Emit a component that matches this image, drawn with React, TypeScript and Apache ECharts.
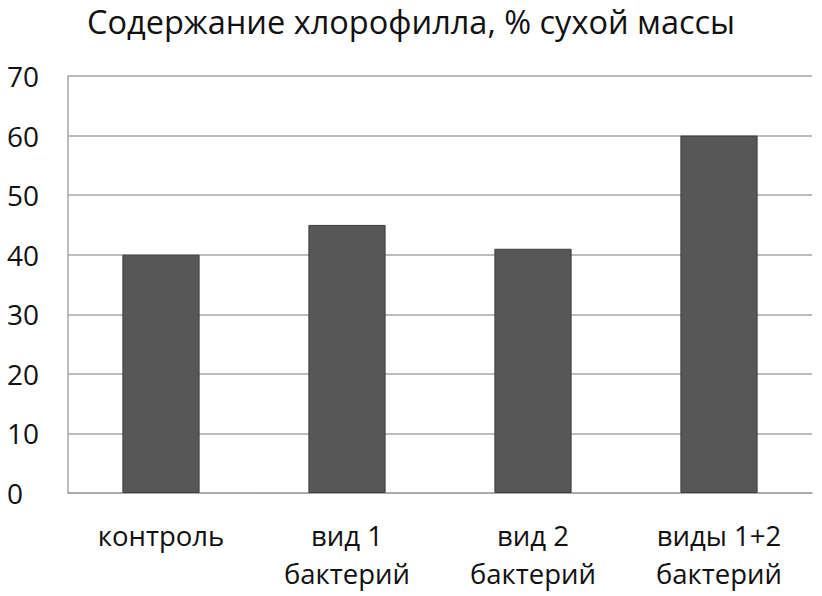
import React, { useEffect, useRef } from "react";
import * as echarts from "echarts";

const categories = ["контроль", "вид 1\nбактерий", "вид 2\nбактерий", "виды 1+2\nбактерий"];
const values = [40, 45, 41, 60];
const yTicks = { min: 0, max: 70, interval: 10 };
const titleText = "Содержание хлорофилла, % сухой массы";

export default function App() {
  const ref = useRef<HTMLDivElement>(null);
  useEffect(() => {
    const chart = echarts.init(ref.current!, null, { renderer: "svg" });
    const font = "'Open Sans', sans-serif";
    chart.setOption({
      animation: false,
      backgroundColor: "#ffffff",
      title: {
        text: titleText,
        left: "center",
        top: 0,
        textStyle: { fontFamily: font, fontSize: 32.5, fontWeight: "normal", color: "#111111" },
      },
      grid: { left: 68, right: 10, top: 76, bottom: 103 },
      xAxis: {
        type: "category",
        data: categories,
        axisLine: { show: true, lineStyle: { color: "#a6a6a6", width: 1.5 } },
        axisTick: { show: false },
        axisLabel: {
          fontFamily: font,
          fontSize: 27.5,
          color: "#111111",
          lineHeight: 38,
          margin: 23,
          interval: 0,
        },
      },
      yAxis: {
        type: "value",
        min: yTicks.min,
        max: yTicks.max,
        interval: yTicks.interval,
        axisLine: { show: true, lineStyle: { color: "#a6a6a6", width: 1.5 } },
        axisTick: { show: false },
        splitLine: { show: true, lineStyle: { color: "#a6a6a6", width: 1.5 } },
        axisLabel: {
          fontFamily: font,
          fontSize: 28,
          color: "#111111",
          align: "left",
          margin: 61,
        },
      },
      series: [
        {
          type: "bar",
          data: values,
          barWidth: "41.5%",
          itemStyle: { color: "#575757", borderColor: "#3e3e3e", borderWidth: 1 },
        },
      ],
    });
    return () => chart.dispose();
  }, []);
  return <div ref={ref} style={{ width: 822, height: 596, position: "absolute", left: 0, top: 0 }} />;
}
